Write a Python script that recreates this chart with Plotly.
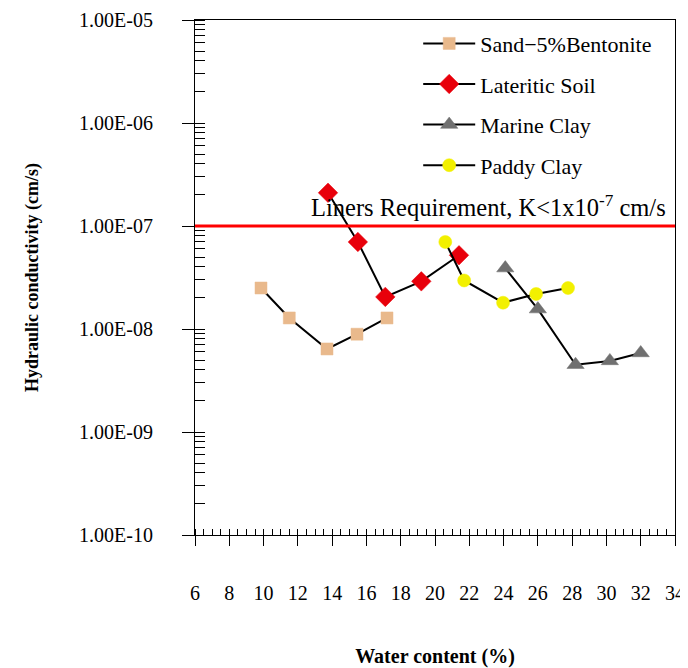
import plotly.graph_objects as go

sand_x = [9.85, 11.5, 13.7, 15.45, 17.2]
sand_y = [2.5e-8, 1.28e-8, 6.4e-9, 8.9e-9, 1.28e-8]
lat_x = [13.76, 15.5, 17.1, 19.2, 21.4]
lat_y = [2.1e-7, 7.0e-8, 2.05e-8, 2.9e-8, 5.2e-8]
mar_x = [24.1, 26.0, 28.2, 30.2, 32.0]
mar_y = [3.9e-8, 1.56e-8, 4.5e-9, 4.9e-9, 5.85e-9]
pad_x = [20.6, 21.7, 23.97, 25.9, 27.76]
pad_y = [7.0e-8, 2.96e-8, 1.8e-8, 2.19e-8, 2.5e-8]
liner_k = 1e-7
y_tickvals = [1e-10, 1e-9, 1e-8, 1e-7, 1e-6, 1e-5]
y_ticktext = ["1.00E-10", "1.00E-09", "1.00E-08", "1.00E-07", "1.00E-06", "1.00E-05"]

FONT = "Liberation Serif"
fig = go.Figure()

series = [
    ("Sand\u22125%Bentonite", sand_x, sand_y, "square", "#E9B98C", 12),
    ("Lateritic Soil", lat_x, lat_y, "diamond", "#E8000B", 15),
    ("Marine Clay", mar_x, mar_y, "triangle-up", "#707070", 15),
    ("Paddy Clay", pad_x, pad_y, "circle", "#F2F000", 13),
]
for i, (name, xs, ys, sym, col, sz) in enumerate(series):
    fig.add_trace(go.Scatter(
        x=xs, y=ys, name=name, mode="lines+markers", legendgroup=f"g{i}",
        line=dict(color="black", width=2),
        marker=dict(symbol=sym, color=col, size=sz, line=dict(width=0.5, color=col)),
    ))

fig.add_shape(type="line", xref="paper", x0=0, x1=1, yref="y", y0=liner_k, y1=liner_k,
              line=dict(color="#FF0000", width=3))
fig.add_annotation(xref="paper", x=0.985, yref="y", y=-7,
                   text="Liners Requirement, K<1x10<sup>-7</sup> cm/s",
                   showarrow=False, xanchor="right", yanchor="bottom", yshift=3,
                   font=dict(family=FONT, size=24.5, color="black"))

fig.update_layout(
    width=680, height=660,
    margin=dict(l=187, r=13, t=12, b=133),
    plot_bgcolor="white", paper_bgcolor="white",
    font=dict(family=FONT, size=20, color="black"),
    showlegend=True,
    legend=dict(x=0.465, y=0.995, xanchor="left", yanchor="top", bgcolor="rgba(0,0,0,0)",
                font=dict(family=FONT, size=22), tracegroupgap=9, traceorder="grouped",
                itemwidth=52),
    xaxis=dict(
        range=[6, 34], tick0=6, dtick=2, ticks="outside", ticklen=10, tickwidth=1, tickcolor="black",
        showline=True, linecolor="black", linewidth=1, mirror=True, showgrid=False, zeroline=False,
        automargin=False, ticklabelstandoff=30, tickfont=dict(size=20),
        minor=dict(dtick=0.5, ticks="inside", ticklen=6, tickcolor="black", showgrid=False),
        title=dict(text="<b>Water content (%)</b>", font=dict(size=20), standoff=47),
    ),
    yaxis=dict(
        type="log", range=[-10, -5], tickvals=y_tickvals, ticktext=y_ticktext,
        ticks="outside", ticklen=12, tickwidth=1, tickcolor="black",
        showline=True, linecolor="black", linewidth=1, mirror=True, showgrid=False, zeroline=False,
        automargin=False, ticklabelstandoff=25, tickfont=dict(size=20),
        minor=dict(dtick="D1", ticks="inside", ticklen=10, tickcolor="black", showgrid=False),
        title=dict(text="<b>Hydraulic conductivity (cm/s)</b>", font=dict(size=18), standoff=35),
    ),
)

fig.write_html("out.html")
